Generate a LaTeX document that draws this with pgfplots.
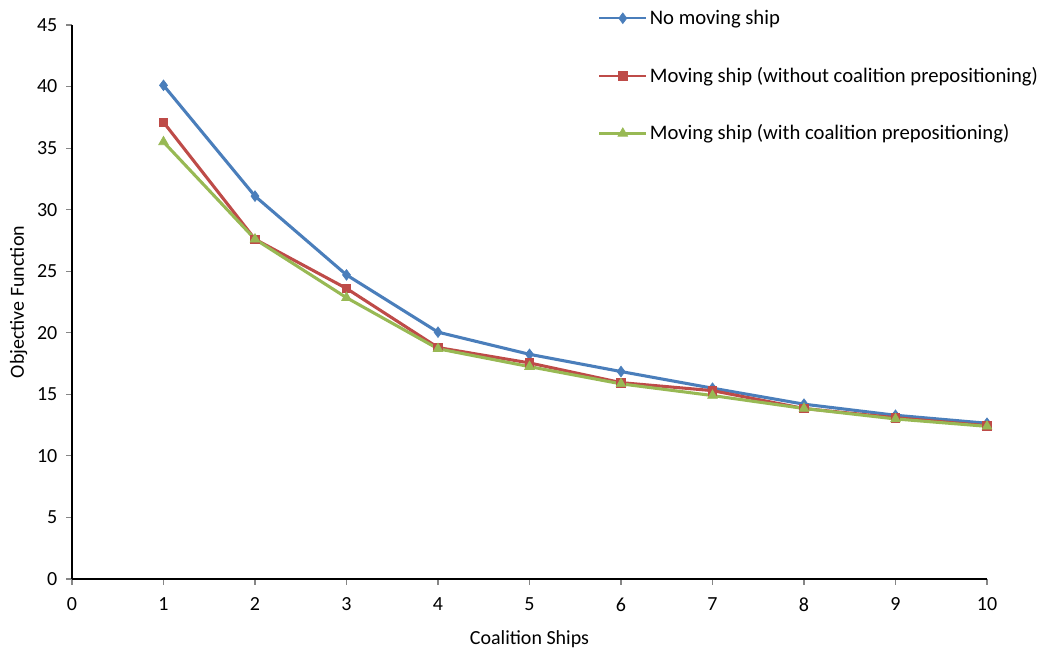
\documentclass[border=0pt]{standalone}
\usepackage{pgfplots}
\pgfplotsset{compat=1.18}
\usepackage{fontspec}
\setmainfont{Carlito}
\definecolor{xlblue}{HTML}{4A7EBB}
\definecolor{xlred}{HTML}{BE4B48}
\definecolor{xlgreen}{HTML}{98B954}
\definecolor{tickgray}{HTML}{868686}
\begin{document}
\begin{tikzpicture}
\useasboundingbox (0pt,0pt) rectangle (780.75pt,486pt);
\begin{axis}[
  at={(54pt,51.75pt)}, anchor=south west,
  scale only axis, width=686.25pt, height=415.5pt,
  xmin=0, xmax=10, ymin=0, ymax=45,
  xtick={0,...,10}, ytick={0,5,...,45},
  axis x line*=bottom, axis y line*=left,
  axis line style={black, line width=0.8pt, -},
  tick style={tickgray, line width=0.8pt},
  tick align=outside, major tick length=4.5pt,
  minor tick num=0,
  font=\fontsize{15pt}{18pt}\selectfont,
  tick label style={font=\fontsize{15pt}{18pt}\selectfont, black},
  /pgf/number format/assume math mode=true,
  xticklabel style={yshift=-6pt},
  yticklabel style={xshift=-3pt},
  xlabel={Coalition Ships}, ylabel={Objective Function},
  xlabel style={at={(axis description cs:0.5,0)}, anchor=north, yshift=-35pt},
  ylabel style={at={(axis description cs:0,0.5)}, anchor=south, yshift=30pt},
  clip=false,
  legend cell align=left,
  legend style={draw=none, fill=none, at={(axis cs:5.75,46.45)}, anchor=north west,
    row sep=26.5pt, inner sep=0pt, font=\fontsize{15.5pt}{18pt}\selectfont,
    /tikz/every even column/.style={column sep=1pt}},
  legend image code/.code={\draw[mark repeat=2, mark phase=2, line width=1.6pt]
    plot coordinates {(0pt,0pt) (17.5pt,0pt) (35pt,0pt)};},
  every axis plot/.append style={line width=2.3pt},
]
\addplot[color=xlblue, mark=diamond*, mark size=4pt, mark options={solid, line width=0.5pt}]
  coordinates {(1,40.1) (2,31.1) (3,24.7) (4,20.05) (5,18.25) (6,16.85) (7,15.5) (8,14.2) (9,13.3) (10,12.65)};
\addlegendentry{No moving ship}
\addplot[color=xlred, mark=square*, mark size=3.2pt, mark options={solid, line width=0.5pt}]
  coordinates {(1,37.1) (2,27.6) (3,23.6) (4,18.8) (5,17.55) (6,15.95) (7,15.3) (8,13.85) (9,13.1) (10,12.45)};
\addlegendentry{Moving ship (without coalition prepositioning)}
\addplot[color=xlgreen, mark=triangle*, mark size=4.2pt, mark options={solid, line width=0.5pt}]
  coordinates {(1,35.5) (2,27.6) (3,22.85) (4,18.7) (5,17.25) (6,15.85) (7,14.9) (8,13.85) (9,13.0) (10,12.4)};
\addlegendentry{Moving ship (with coalition prepositioning)}
\end{axis}
\end{tikzpicture}
\end{document}
